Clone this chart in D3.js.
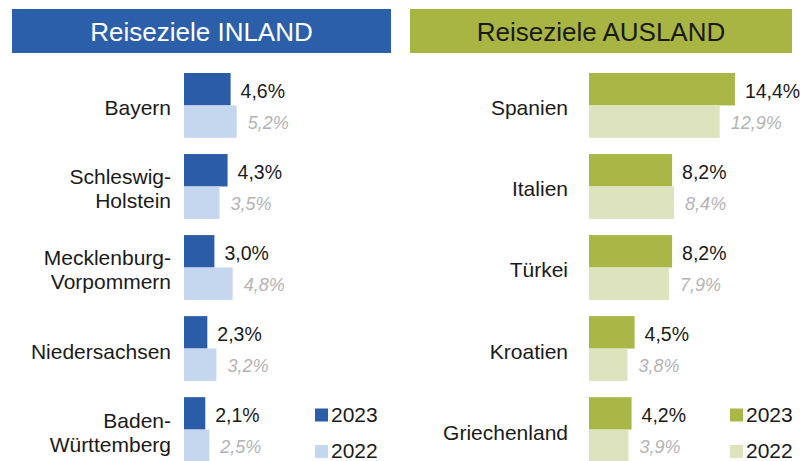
<!DOCTYPE html>
<html>
<head>
<meta charset="utf-8">
<script src="https://cdn.jsdelivr.net/npm/d3@7"></script>
<style>
  body { margin: 0; background: #fff; }
  svg { display: block; font-family: "Liberation Sans", Arial, sans-serif; }
</style>
</head>
<body>
<svg></svg>
<script>
var width = 807,
  height = 461;

// data
var years = ["2023", "2022"];
var inlandCats = ["Bayern", "Schleswig-\nHolstein", "Mecklenburg-\nVorpommern", "Niedersachsen", "Baden-\nWürttemberg"];
var inland2023 = [4.6, 4.3, 3.0, 2.3, 2.1];
var inland2022 = [5.2, 3.5, 4.8, 3.2, 2.5];
var auslandCats = ["Spanien", "Italien", "Türkei", "Kroatien", "Griechenland"];
var ausland2023 = [14.4, 8.2, 8.2, 4.5, 4.2];
var ausland2022 = [12.9, 8.4, 7.9, 3.8, 3.9];

var svg = d3.select("svg")
  .attr("width", width)
  .attr("height", height);

var x = d3.scaleLinear().domain([0, 15]).range([0, 152]);

var fmt = function (v) { return d3.format(".1f")(v).replace(".", ",") + "%"; };

var panels = [
  { title: "Reiseziele INLAND", hx: 12, hw: 379, head: "#2c5fa9", headText: "#ffffff",
    cats: inlandCats, v23: inland2023, v22: inland2022, x0: 184, labelX: 171,
    c23: "#2b5ca7", c22: "#c5d7ef", legX: 315 },
  { title: "Reiseziele AUSLAND", hx: 410, hw: 382, head: "#a8b543", headText: "#1a1a1a",
    cats: auslandCats, v23: ausland2023, v22: ausland2022, x0: 589, labelX: 568,
    c23: "#a9b746", c22: "#dde3bd", legX: 730 }
];

panels.forEach(function (p) {
  var g = svg.append("g");

  g.append("rect")
    .attr("x", p.hx).attr("y", 9)
    .attr("width", p.hw).attr("height", 44)
    .attr("fill", p.head);
  g.append("text")
    .attr("x", p.hx + p.hw / 2).attr("y", 40.5)
    .attr("text-anchor", "middle")
    .attr("font-size", 26)
    .attr("fill", p.headText)
    .text(p.title);

  var y = d3.scaleBand().domain(p.cats).range([73, 462]).paddingInner(0.2).paddingOuter(0);
  var yy = d3.scaleBand().domain(years).range([0, y.bandwidth()]);

  var rows = p.cats.map(function (c, i) {
    return { cat: c, vals: [p.v23[i], p.v22[i]] };
  });

  var row = g.selectAll(".row").data(rows).enter().append("g")
    .attr("class", "row")
    .attr("transform", function (d) { return "translate(0," + y(d.cat) + ")"; });

  // category label, one or two lines
  row.append("text")
    .attr("text-anchor", "end")
    .attr("font-size", 21)
    .attr("fill", "#1a1a1a")
    .each(function (d) {
      var lines = d.cat.split("\n");
      var t = d3.select(this);
      lines.forEach(function (l, i) {
        t.append("tspan")
          .attr("x", p.labelX)
          .attr("y", y.bandwidth() / 2 + 10 + (i - (lines.length - 1) / 2) * 24)
          .text(l);
      });
    });

  row.selectAll("rect").data(function (d) { return d.vals; }).enter().append("rect")
    .attr("x", p.x0)
    .attr("y", function (v, i) { return yy(years[i]); })
    .attr("width", function (v) { return x(v); })
    .attr("height", yy.bandwidth())
    .attr("fill", function (v, i) { return i == 0 ? p.c23 : p.c22; });

  row.selectAll(".val").data(function (d) { return d.vals; }).enter().append("text")
    .attr("class", "val")
    .attr("x", function (v, i) { return p.x0 + x(v) + (i == 0 ? 10 : 11); })
    .attr("y", function (v, i) { return yy(years[i]) + yy.bandwidth() / 2 + (i == 0 ? 8.5 : 7.5); })
    .attr("font-size", function (v, i) { return i == 0 ? 19.5 : 18; })
    .attr("font-style", function (v, i) { return i == 0 ? "normal" : "italic"; })
    .attr("fill", function (v, i) { return i == 0 ? "#1a1a1a" : "#b3b3b3"; })
    .text(fmt);

  // legend
  var leg = g.selectAll(".leg").data(years).enter().append("g")
    .attr("class", "leg")
    .attr("transform", function (d, i) { return "translate(" + p.legX + "," + (421.5 + i * 36.5) + ")"; });
  leg.append("rect")
    .attr("x", 0).attr("y", -13)
    .attr("width", 13).attr("height", 13)
    .attr("fill", function (d, i) { return i == 0 ? p.c23 : p.c22; });
  leg.append("text")
    .attr("x", 16).attr("y", 0)
    .attr("font-size", 21)
    .attr("fill", "#1a1a1a")
    .text(function (d) { return d; });
});
</script>
</body>
</html>
